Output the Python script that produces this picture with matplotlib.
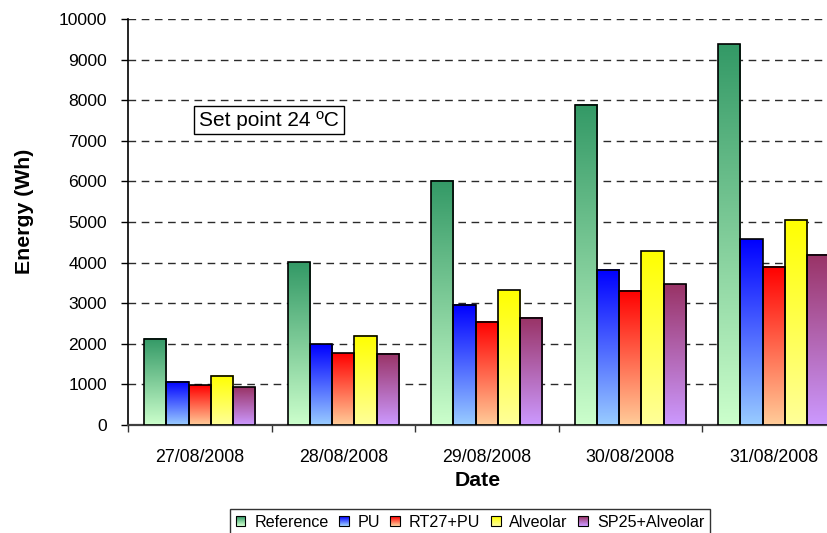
import numpy as np
import matplotlib
matplotlib.use("Agg")
import matplotlib.pyplot as plt
from matplotlib.colors import to_rgb
from matplotlib.patches import Rectangle, Patch
from matplotlib.legend_handler import HandlerBase

plt.rcParams['font.family'] = ['Liberation Sans', 'DejaVu Sans']

# Daily energy consumption per cubicle
dates = ['27/08/2008', '28/08/2008', '29/08/2008', '30/08/2008', '31/08/2008']
reference = [2130, 4005, 6015, 7890, 9380]
pu = [1070, 1990, 2960, 3820, 4580]
rt27_pu = [980, 1768, 2548, 3305, 3900]
alveolar = [1210, 2202, 3320, 4274, 5050]
sp25_alveolar = [930, 1751, 2645, 3468, 4190]

series_names = ['Reference', 'PU', 'RT27+PU', 'Alveolar', 'SP25+Alveolar']
series_values = [reference, pu, rt27_pu, alveolar, sp25_alveolar]
# (top colour, bottom colour) of each vertical gradient fill
gradients = [('#339966', '#CCFFCC'),
             ('#0000FF', '#99CCFF'),
             ('#FF0000', '#FFCC99'),
             ('#FFFF00', '#FFFF99'),
             ('#993366', '#CC99FF')]


def gradient_image(top, bottom, n=256):
    t = np.linspace(0.0, 1.0, n)[:, None]
    c0 = np.array(to_rgb(bottom))
    c1 = np.array(to_rgb(top))
    return (c0 + (c1 - c0) * t)[:, None, :]


class GradientHandler(HandlerBase):
    def __init__(self, top, bottom):
        super().__init__()
        self.top, self.bottom = top, bottom

    def create_artists(self, legend, orig_handle, xdescent, ydescent,
                       width, height, fontsize, trans):
        n = 10
        c0 = np.array(to_rgb(self.bottom))
        c1 = np.array(to_rgb(self.top))
        arts = []
        for k in range(n):
            t = k / (n - 1)
            arts.append(Rectangle((-xdescent, -ydescent + height * k / n),
                                  width, height / n + 0.01,
                                  facecolor=c0 + (c1 - c0) * t,
                                  edgecolor='none', transform=trans))
        arts.append(Rectangle((-xdescent, -ydescent), width, height,
                              facecolor='none', edgecolor='black',
                              linewidth=0.8, transform=trans))
        return arts


W, H = 827, 533
fig = plt.figure(figsize=(W / 100, H / 100), dpi=100)
ax = fig.add_axes([128 / W, 1 - 425 / H, 717.5 / W, 406 / H])

x = np.arange(len(dates))
bw = 0.155
for j, (vals, (top, bottom)) in enumerate(zip(series_values, gradients)):
    bars = ax.bar(x + (j - 2) * bw, vals, width=bw, facecolor='none',
                  edgecolor='black', linewidth=1.2, zorder=4)
    img = gradient_image(top, bottom)
    for b in bars:
        x0, w, h = b.get_x(), b.get_width(), b.get_height()
        ax.imshow(img, extent=[x0, x0 + w, 0, h], origin='lower',
                  aspect='auto', zorder=3, interpolation='bilinear')

ax.set_xlim(-0.5, len(dates) - 0.5)
ax.set_ylim(0, 10000)
ax.set_yticks(np.arange(0, 10001, 1000))
ax.yaxis.grid(True, color='#2b2b2b', linewidth=1.0, dashes=(5.5, 4))
ax.set_axisbelow(True)

ax.set_xticks(x)
ax.set_xticklabels(dates)
ax.set_xticks(np.arange(len(dates) + 1) - 0.5, minor=True)
ax.tick_params(axis='x', which='major', length=0, pad=17, labelsize=12.8)
ax.tick_params(axis='x', which='minor', length=5, width=1, color='#333333',
               direction='out')
ax.tick_params(axis='y', length=5, width=1, direction='out', pad=10,
               labelsize=12.6)

for s in ('top', 'right'):
    ax.spines[s].set_visible(False)
ax.spines['left'].set_linewidth(1.2)
ax.spines['bottom'].set_color('#404040')
ax.spines['bottom'].set_linewidth(1.6)

fig.text(24 / W, 1 - 211 / H, 'Energy (Wh)', rotation=90, ha='center',
         va='center', fontsize=15.3, fontweight='bold')
fig.text(478 / W, 1 - 480 / H, 'Date', ha='center', va='center',
         fontsize=15.3, fontweight='bold')

ax.text((269 - 128) / 717.5, (425 - 120) / 406, 'Set point 24 ºC',
        transform=ax.transAxes, ha='center', va='center', fontsize=15,
        bbox=dict(boxstyle='square,pad=0.22', facecolor='white',
                  edgecolor='black', linewidth=1.0), zorder=6)

handles = [Patch(label=n) for n in series_names]
hmap = {h: GradientHandler(t, b) for h, (t, b) in zip(handles, gradients)}
leg = fig.legend(handles=handles, handler_map=hmap, loc='upper center',
                 bbox_to_anchor=(470 / W, 1 - 509 / H), ncol=5,
                 fontsize=11.6, frameon=True, fancybox=False, shadow=False,
                 handlelength=0.6, handleheight=0.6, handletextpad=0.55,
                 columnspacing=0.65, borderpad=0.35, borderaxespad=0)
leg.get_frame().set_edgecolor('black')
leg.get_frame().set_linewidth(1.0)

fig.savefig('out.png', dpi=100)
